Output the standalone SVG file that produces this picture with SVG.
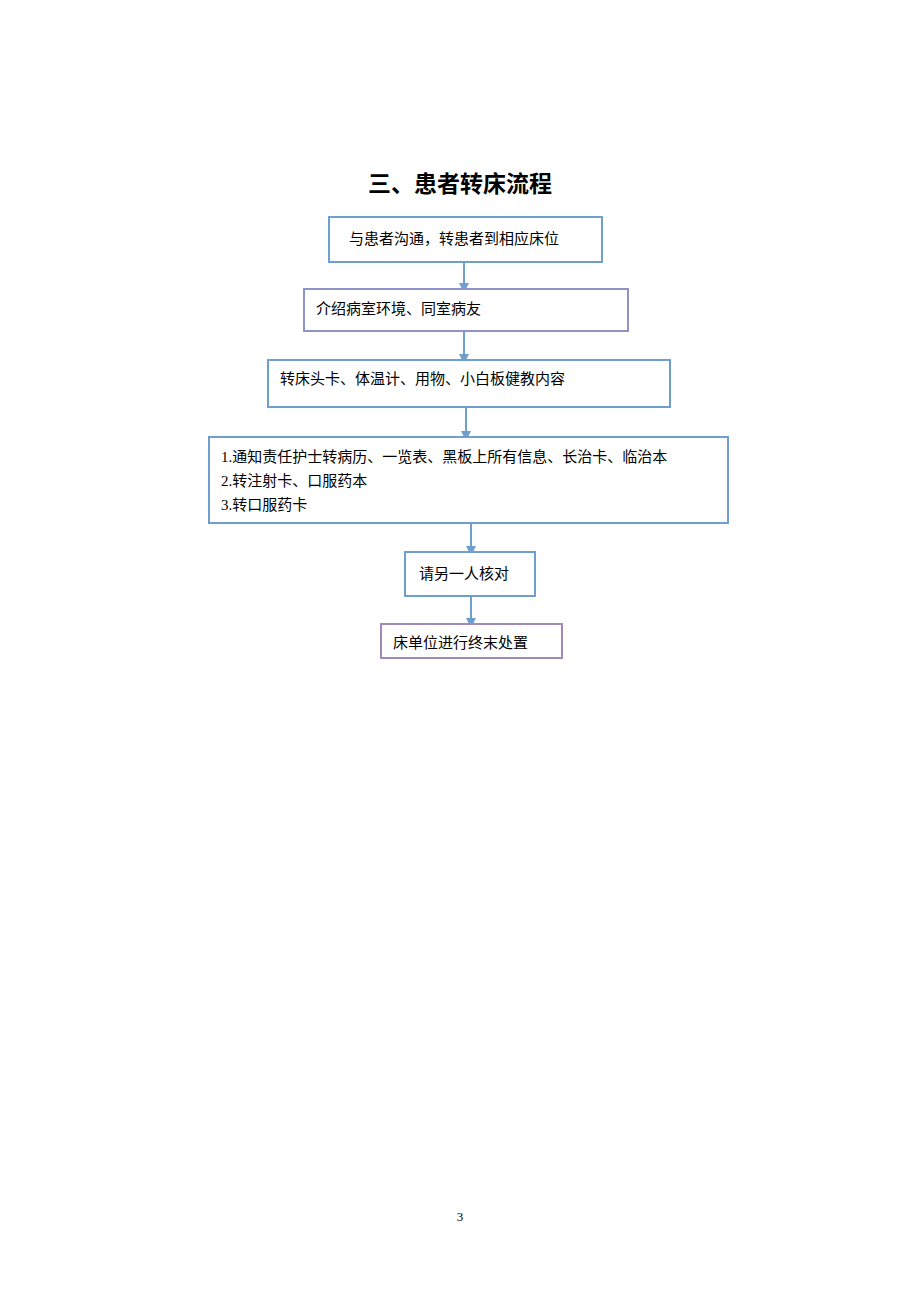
<svg xmlns="http://www.w3.org/2000/svg" width="920" height="1302" viewBox="0 0 920 1302">
<defs>
<style>
.b{fill:#fff;stroke:#6f9fcf;stroke-width:2}
.t{font-family:"Liberation Serif","Noto Sans CJK SC",serif;font-size:15px;fill:#000}
.c{stroke:#6f9fcf;stroke-width:2;fill:none;marker-end:url(#a)}
</style>
<marker id="a" markerWidth="10" markerHeight="10" refX="5" refY="5" orient="auto" markerUnits="userSpaceOnUse"><path d="M0,0 L10,5 L0,10 z" fill="#6f9fcf"/></marker>
</defs>
<rect width="920" height="1302" fill="#fff"/>
<text x="460" y="192" text-anchor="middle" style="font-family:'Noto Sans CJK SC',sans-serif;font-size:23px;font-weight:bold">三、患者转床流程</text>
<g id="connectors">
<line class="c" x1="464" y1="262" x2="464" y2="288"/>
<line class="c" x1="464" y1="331" x2="464" y2="359"/>
<line class="c" x1="466" y1="407" x2="466" y2="436"/>
<line class="c" x1="471" y1="523" x2="471" y2="551"/>
<line class="c" x1="471" y1="596" x2="471" y2="623"/>
</g>
<g id="n1"><rect class="b" x="329" y="217" width="273" height="45"/><text class="t" x="349" y="244">与患者沟通，转患者到相应床位</text></g>
<g id="n2"><rect class="b" x="304" y="289" width="324" height="42" style="stroke:#8f94c8"/><text class="t" x="316" y="314">介绍病室环境、同室病友</text></g>
<g id="n3"><rect class="b" x="268" y="360" width="402" height="47"/><text class="t" x="280" y="384">转床头卡、体温计、用物、小白板健教内容</text></g>
<g id="n4"><rect class="b" x="209" y="437" width="519" height="86"/><text class="t" x="221" y="462">1.通知责任护士转病历、一览表、黑板上所有信息、长治卡、临治本</text><text class="t" x="221" y="486">2.转注射卡、口服药本</text><text class="t" x="221" y="510">3.转口服药卡</text></g>
<g id="n5"><rect class="b" x="405" y="552" width="130" height="44"/><text class="t" x="419" y="579">请另一人核对</text></g>
<g id="n6"><rect class="b" x="381" y="624" width="181" height="34" style="stroke:#a08ab8"/><text class="t" x="393" y="648">床单位进行终末处置</text></g>
<text x="460" y="1221" text-anchor="middle" style="font-family:'Liberation Serif',serif;font-size:13px">3</text>
</svg>
